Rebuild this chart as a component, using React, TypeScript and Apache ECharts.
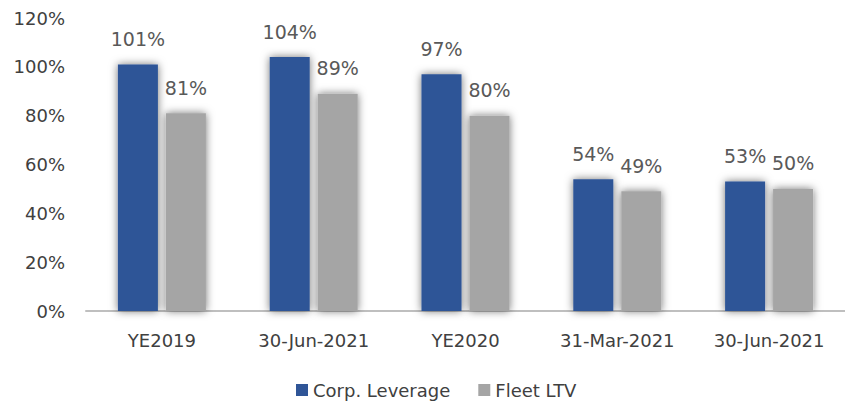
import React, { useEffect, useRef } from "react";
import * as echarts from "echarts";

const categories = ["YE2019", "30-Jun-2021", "YE2020", "31-Mar-2021", "30-Jun-2021"];
const corpLeverage = [101, 104, 97, 54, 53];
const fleetLTV = [81, 89, 80, 49, 50];
const yTicks = [0, 20, 40, 60, 80, 100, 120];

const FONT = "'DejaVu Sans', sans-serif";

export default function App() {
  const ref = useRef<HTMLDivElement>(null);
  useEffect(() => {
    const chart = echarts.init(ref.current!, null, { renderer: "svg" });
    const labelCfg = {
      show: true,
      position: "top" as const,
      distance: 16,
      formatter: "{c}%",
      color: "#595959",
      fontSize: 19,
      fontFamily: FONT,
    };
    const shadow = {
      shadowBlur: 9,
      shadowColor: "rgba(0,0,0,0.55)",
      shadowOffsetX: 0,
      shadowOffsetY: 0,
    };
    chart.setOption({
      animation: false,
      backgroundColor: "#ffffff",
      grid: { left: 86, right: 0, top: 18, bottom: 100, containLabel: false },
      legend: {
        bottom: 7,
        left: 291,
        itemWidth: 12,
        itemHeight: 12,
        itemGap: 28,
        icon: "rect",
        textStyle: { color: "#404040", fontSize: 18, fontFamily: FONT },
        data: ["Corp. Leverage", "Fleet LTV"],
      },
      xAxis: {
        type: "category",
        data: categories,
        axisLine: { lineStyle: { color: "#BFBFBF", width: 2 } },
        axisTick: { show: false },
        axisLabel: { color: "#404040", fontSize: 18, fontFamily: FONT, margin: 20 },
      },
      yAxis: {
        type: "value",
        min: yTicks[0],
        max: yTicks[yTicks.length - 1],
        interval: 20,
        axisLine: { show: false },
        axisTick: { show: false },
        splitLine: { show: false },
        axisLabel: {
          formatter: "{value}%",
          color: "#404040",
          fontSize: 18,
          fontFamily: FONT,
          margin: 21,
        },
      },
      series: [
        {
          name: "Corp. Leverage",
          type: "bar",
          data: corpLeverage,
          barWidth: 40,
          barGap: "20%",
          itemStyle: { color: "#2F5597", ...shadow },
          label: labelCfg,
        },
        {
          name: "Fleet LTV",
          type: "bar",
          data: fleetLTV,
          barWidth: 40,
          itemStyle: { color: "#A5A5A5", ...shadow },
          label: labelCfg,
        },
      ],
    });
    return () => chart.dispose();
  }, []);
  return <div ref={ref} style={{ width: 845, height: 411, position: "absolute", left: 0, top: 0 }} />;
}
